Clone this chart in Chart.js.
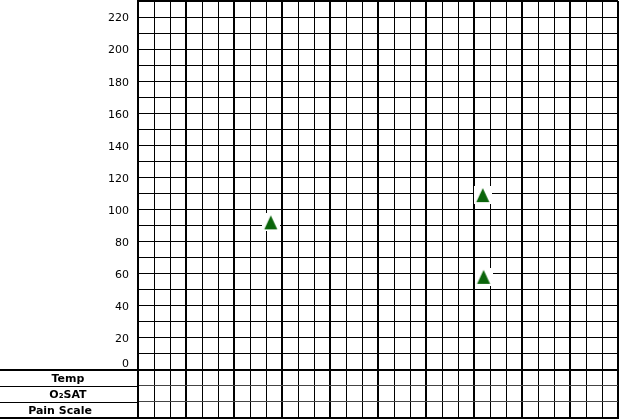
<!DOCTYPE html>
<html>
<head>
<meta charset="utf-8">
<script src="https://cdn.jsdelivr.net/npm/chart.js@4"></script>
<style>
  html, body { margin: 0; padding: 0; background: #fff; }
  canvas { display: block; }
</style>
</head>
<body>
<canvas id="vitals" width="619" height="419"></canvas>
<script>
// readings (x = column slot, 3 slots per heavy column)
var pointTimes = [8.3, 21.55, 21.6];
var pointValues = [92, 109, 58];
// y axis
var yMin = -30, yMax = 230, yStep = 10, labelEvery = 20;
// x axis slots
var slotCount = 30, slotsPerBlock = 3;
// rows under the chart
var rowLabels = ["Temp", "O\u2082SAT", "Pain Scale"];
var rowValues = [-5, -15, -25];

// triangle marker on a white square, like the original image marker
var mark = document.createElement("canvas");
mark.width = 18; mark.height = 18;
var mc = mark.getContext("2d");
mc.fillStyle = "#fff";
mc.fillRect(0, 0, 18, 18);
mc.fillStyle = "#0a640a";
mc.beginPath();
mc.moveTo(9, 2);
mc.lineTo(15.5, 16);
mc.lineTo(2.5, 16);
mc.closePath();
mc.fill();

var points = [];
for (var i = 0; i < pointTimes.length; i++) {
    points.push({ x: pointTimes[i], y: pointValues[i] });
}

// left part of the table: lines and row names
var tablePlugin = {
    id: "tableRows",
    afterDraw: function(chart) {
        var ctx = chart.ctx;
        var ys = chart.scales.y;
        var left = chart.chartArea.left;
        ctx.save();
        ctx.strokeStyle = "#000";
        [0, -10, -20, -30].forEach(function(v) {
            var w = (v === 0 || v === -30) ? 2 : 1;
            var y = Math.round(ys.getPixelForValue(v));
            if (w === 1) y += 0.5;
            ctx.lineWidth = w;
            ctx.beginPath();
            ctx.moveTo(0, y);
            ctx.lineTo(left, y);
            ctx.stroke();
        });
        var centers = [68, 68, 60];
        ctx.fillStyle = "#000";
        ctx.font = "bold 11px 'DejaVu Sans'";
        ctx.textAlign = "center";
        ctx.textBaseline = "middle";
        rowLabels.forEach(function(t, k) {
            ctx.fillText(t, centers[k], ys.getPixelForValue(rowValues[k]) + 1);
        });
        ctx.restore();
    }
};

var chart = new Chart(document.getElementById("vitals"), {
    type: "scatter",
    data: {
        datasets: [{
            label: "Vitals",
            data: points,
            pointStyle: mark,
            pointRadius: 9,
            showLine: false
        }]
    },
    options: {
        responsive: false,
        animation: false,
        devicePixelRatio: 1,
        layout: { autoPadding: false, padding: { top: 1, bottom: 1, left: 0, right: 1 } },
        plugins: { legend: { display: false }, tooltip: { enabled: false } },
        scales: {
            x: {
                type: "linear",
                min: 0,
                max: slotCount,
                ticks: { display: false, stepSize: 1, autoSkip: false },
                grid: {
                    drawTicks: false,
                    color: "#000",
                    lineWidth: function(c) { return c.tick.value % slotsPerBlock === 0 ? 2 : 1; }
                },
                border: { color: "#000", width: 2 },
                afterFit: function(s) { s.height = 0; s.paddingLeft = 0; s.paddingRight = 0; }
            },
            y: {
                type: "linear",
                min: yMin,
                max: yMax,
                ticks: {
                    stepSize: yStep,
                    autoSkip: false,
                    padding: 9,
                    labelOffset: 1.5,
                    color: "#000",
                    font: { family: "'DejaVu Sans'", size: 11, lineHeight: 1.4 },
                    callback: function(v) {
                        if (v === 0) return ["0", ""];
                        if (v > 0 && v < yMax && v % labelEvery === 0) return String(v);
                        return "";
                    }
                },
                grid: {
                    drawTicks: false,
                    color: function(c) { return c.tick.value < 0 && c.tick.value > yMin ? "#444" : "#000"; },
                    lineWidth: function(c) {
                        var v = c.tick.value;
                        return (v === 0 || v === yMin || v === yMax) ? 2 : 1;
                    }
                },
                border: { color: "#000", width: 2 },
                afterFit: function(s) { s.width = 138; s.paddingTop = 0; s.paddingBottom = 0; }
            }
        }
    },
    plugins: [tablePlugin]
});
</script>
</body>
</html>
